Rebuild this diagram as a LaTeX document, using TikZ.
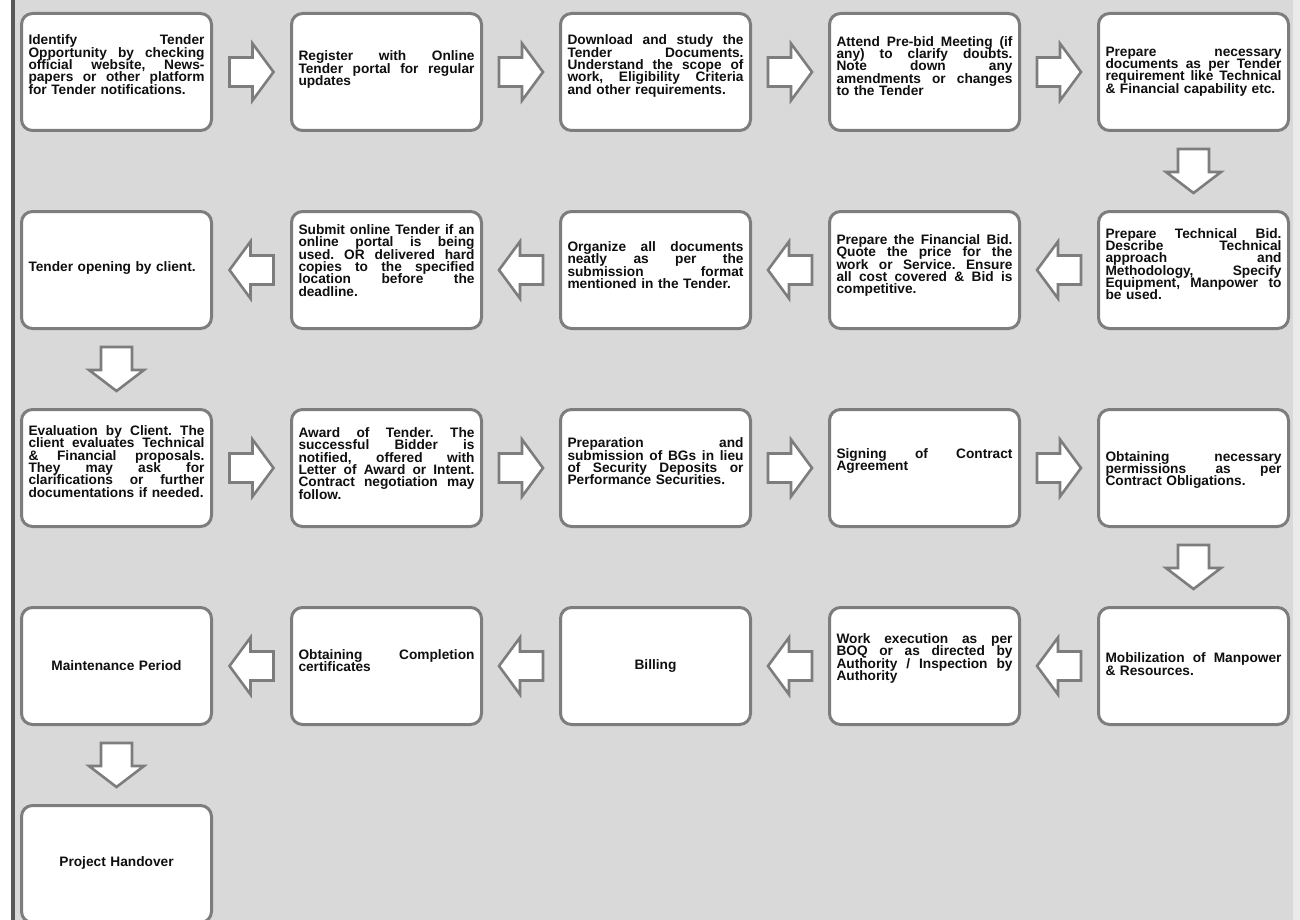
\documentclass[tikz,border=0pt]{standalone}
\usepackage{fontspec}
\setmainfont{Liberation Sans}
\usetikzlibrary{calc}
\definecolor{bgc}{RGB}{217,217,217}
\definecolor{edgec}{RGB}{234,234,234}
\definecolor{bdc}{RGB}{125,125,125}
\definecolor{barc}{RGB}{88,88,88}
\definecolor{txc}{RGB}{15,15,15}
\newcommand\JL[1]{{\spaceskip=0pt\xspaceskip=0pt\makebox[176pt][s]{#1}}}
\newcommand\tfont{\bfseries\fontsize{13.7pt}{12.35pt}\selectfont\frenchspacing\lineskiplimit=-50pt\lineskip=0pt}
\newcommand\rarr[2]{\draw[blk, shift={($(#1.east)!0.5!(#2.west)$)}] (-22,-14.5) -- (1,-14.5) -- (1,-28.5) -- (22,0) -- (1,28.5) -- (1,14.5) -- (-22,14.5) -- cycle;}
\newcommand\larr[2]{\draw[blk, shift={($(#1.west)!0.5!(#2.east)$)}] (22,-14.5) -- (-1,-14.5) -- (-1,-28.5) -- (-22,0) -- (-1,28.5) -- (-1,14.5) -- (22,14.5) -- cycle;}
\newcommand\darr[2]{\draw[blk, shift={($(#1.south)!0.5!(#2.north)$)}] (-15.5,-22) -- (15.5,-22) -- (15.5,1) -- (27.5,1) -- (0,22) -- (-27.5,1) -- (-15.5,1) -- cycle;}
\begin{document}
\begin{tikzpicture}[x=1pt,y=-1pt,
  box/.style={draw=bdc, line width=3pt, fill=white, rounded corners=11pt, minimum width=190pt, minimum height=117pt, inner sep=0pt},
  txt/.style={text width=176pt, align=left, inner sep=0pt, text=txc, font=\tfont},
  ctxt/.style={txt, align=center},
  blk/.style={draw=bdc, fill=white, line width=2.6pt, line join=miter}]
\useasboundingbox (0,0) rectangle (1300,920);
\clip (0,0) rectangle (1300,920);
\fill[white] (0,0) rectangle (1300,920);
\fill[bgc] (15,0) rectangle (1293,920);
\fill[edgec] (1293,0) rectangle (1300,920);
\fill[barc] (11,0) rectangle (15,920);
% boxes
\foreach \n/\x in {1/116.5,2/386.5,3/655.5,4/924.5,5/1193.5}{
  \node[box] (a\n) at (\x,72) {};
  \node[box] (b\n) at (\x,270) {};
  \node[box] (c\n) at (\x,468) {};
  \node[box] (d\n) at (\x,666) {};
}
\node[box] (e1) at (116.5,864) {};
% row 1
\node[txt] (a1t) at ([yshift=7.5pt]a1.center) {\JL{Identify Tender}\\\JL{Opportunity by checking}\\\JL{official website, News-}\\\JL{papers or other platform}\\for Tender notifications.};
\node[txt] (a2t) at ([yshift=2.5pt]a2.center) {\JL{Register with Online}\\\JL{Tender portal for regular}\\updates};
\node[txt] (a3t) at ([yshift=6pt]a3.center) {\JL{Download and study the}\\\JL{Tender Documents.}\\\JL{Understand the scope of}\\\JL{work, Eligibility Criteria}\\and other requirements.};
\node[txt] (a4t) at ([yshift=6pt]a4.center) {\JL{Attend Pre-bid Meeting (if}\\\JL{any) to clarify doubts.}\\\JL{Note down any}\\\JL{amendments or changes}\\to the Tender};
\node[txt] (a5t) at ([yshift=0.5pt]a5.center) {\JL{Prepare necessary}\\\JL{documents as per Tender}\\\JL{requirement like Technical}\\\& Financial capability etc.};
% row 2
\node[txt] (b5t) at ([yshift=6pt]b5.center) {\JL{Prepare Technical Bid.}\\\JL{Describe Technical}\\\JL{approach and}\\\JL{Methodology, Specify}\\\JL{Equipment, Manpower to}\\be used.};
\node[txt] (b4t) at ([yshift=4.5pt]b4.center) {\JL{Prepare the Financial Bid.}\\\JL{Quote the price for the}\\\JL{work or Service. Ensure}\\\JL{all cost covered \& Bid is}\\competitive.};
\node[txt] (b3t) at ([yshift=5pt]b3.center) {\JL{Organize all documents}\\\JL{neatly as per the}\\\JL{submission format}\\mentioned in the Tender.};
\node[txt] (b2t) at ([yshift=9.5pt]b2.center) {\JL{Submit online Tender if an}\\\JL{online portal is being}\\\JL{used. OR delivered hard}\\\JL{copies to the specified}\\\JL{location before the}\\deadline.};
\node[txt] (b1t) at ([yshift=2pt]b1.center) {Tender opening by client.};
% row 3
\node[txt] (c1t) at ([yshift=6.5pt]c1.center) {\JL{Evaluation by Client. The}\\\JL{client evaluates Technical}\\\JL{\& Financial proposals.}\\\JL{They may ask for}\\\JL{clarifications or further}\\documentations if needed.};
\node[txt] (c2t) at ([yshift=4.5pt]c2.center) {\JL{Award of Tender. The}\\\JL{successful Bidder is}\\\JL{notified, offered with}\\\JL{Letter of Award or Intent.}\\\JL{Contract negotiation may}\\follow.};
\node[txt] (c3t) at ([yshift=6.5pt]c3.center) {\JL{Preparation and}\\\JL{submission of BGs in lieu}\\\JL{of Security Deposits or}\\Performance Securities.};
\node[txt] (c4t) at ([yshift=7pt]c4.center) {\JL{Signing of Contract}\\Agreement};
\node[txt] (c5t) at ([yshift=-2pt]c5.center) {\JL{Obtaining necessary}\\\JL{permissions as per}\\Contract Obligations.};
% row 4
\node[txt] (d5t) at ([yshift=2pt]d5.center) {\JL{Mobilization of Manpower}\\\& Resources.};
\node[txt] (d4t) at ([yshift=7.5pt]d4.center) {\JL{Work execution as per}\\\JL{BOQ or as directed by}\\\JL{Authority / Inspection by}\\Authority};
\node[ctxt] (d3t) at (d3.center) {Billing};
\node[txt] (d2t) at ([yshift=5.5pt]d2.center) {\JL{Obtaining Completion}\\certificates};
\node[ctxt] (d1t) at (d1.center) {Maintenance Period};
% row 5
\node[ctxt] (e1t) at ([yshift=1pt]e1.center) {Project Handover};
% arrows
\rarr{a1}{a2}\rarr{a2}{a3}\rarr{a3}{a4}\rarr{a4}{a5}
\darr{a5}{b5}
\larr{b5}{b4}\larr{b4}{b3}\larr{b3}{b2}\larr{b2}{b1}
\darr{b1}{c1}
\rarr{c1}{c2}\rarr{c2}{c3}\rarr{c3}{c4}\rarr{c4}{c5}
\darr{c5}{d5}
\larr{d5}{d4}\larr{d4}{d3}\larr{d3}{d2}\larr{d2}{d1}
\darr{d1}{e1}
\end{tikzpicture}
\end{document}
